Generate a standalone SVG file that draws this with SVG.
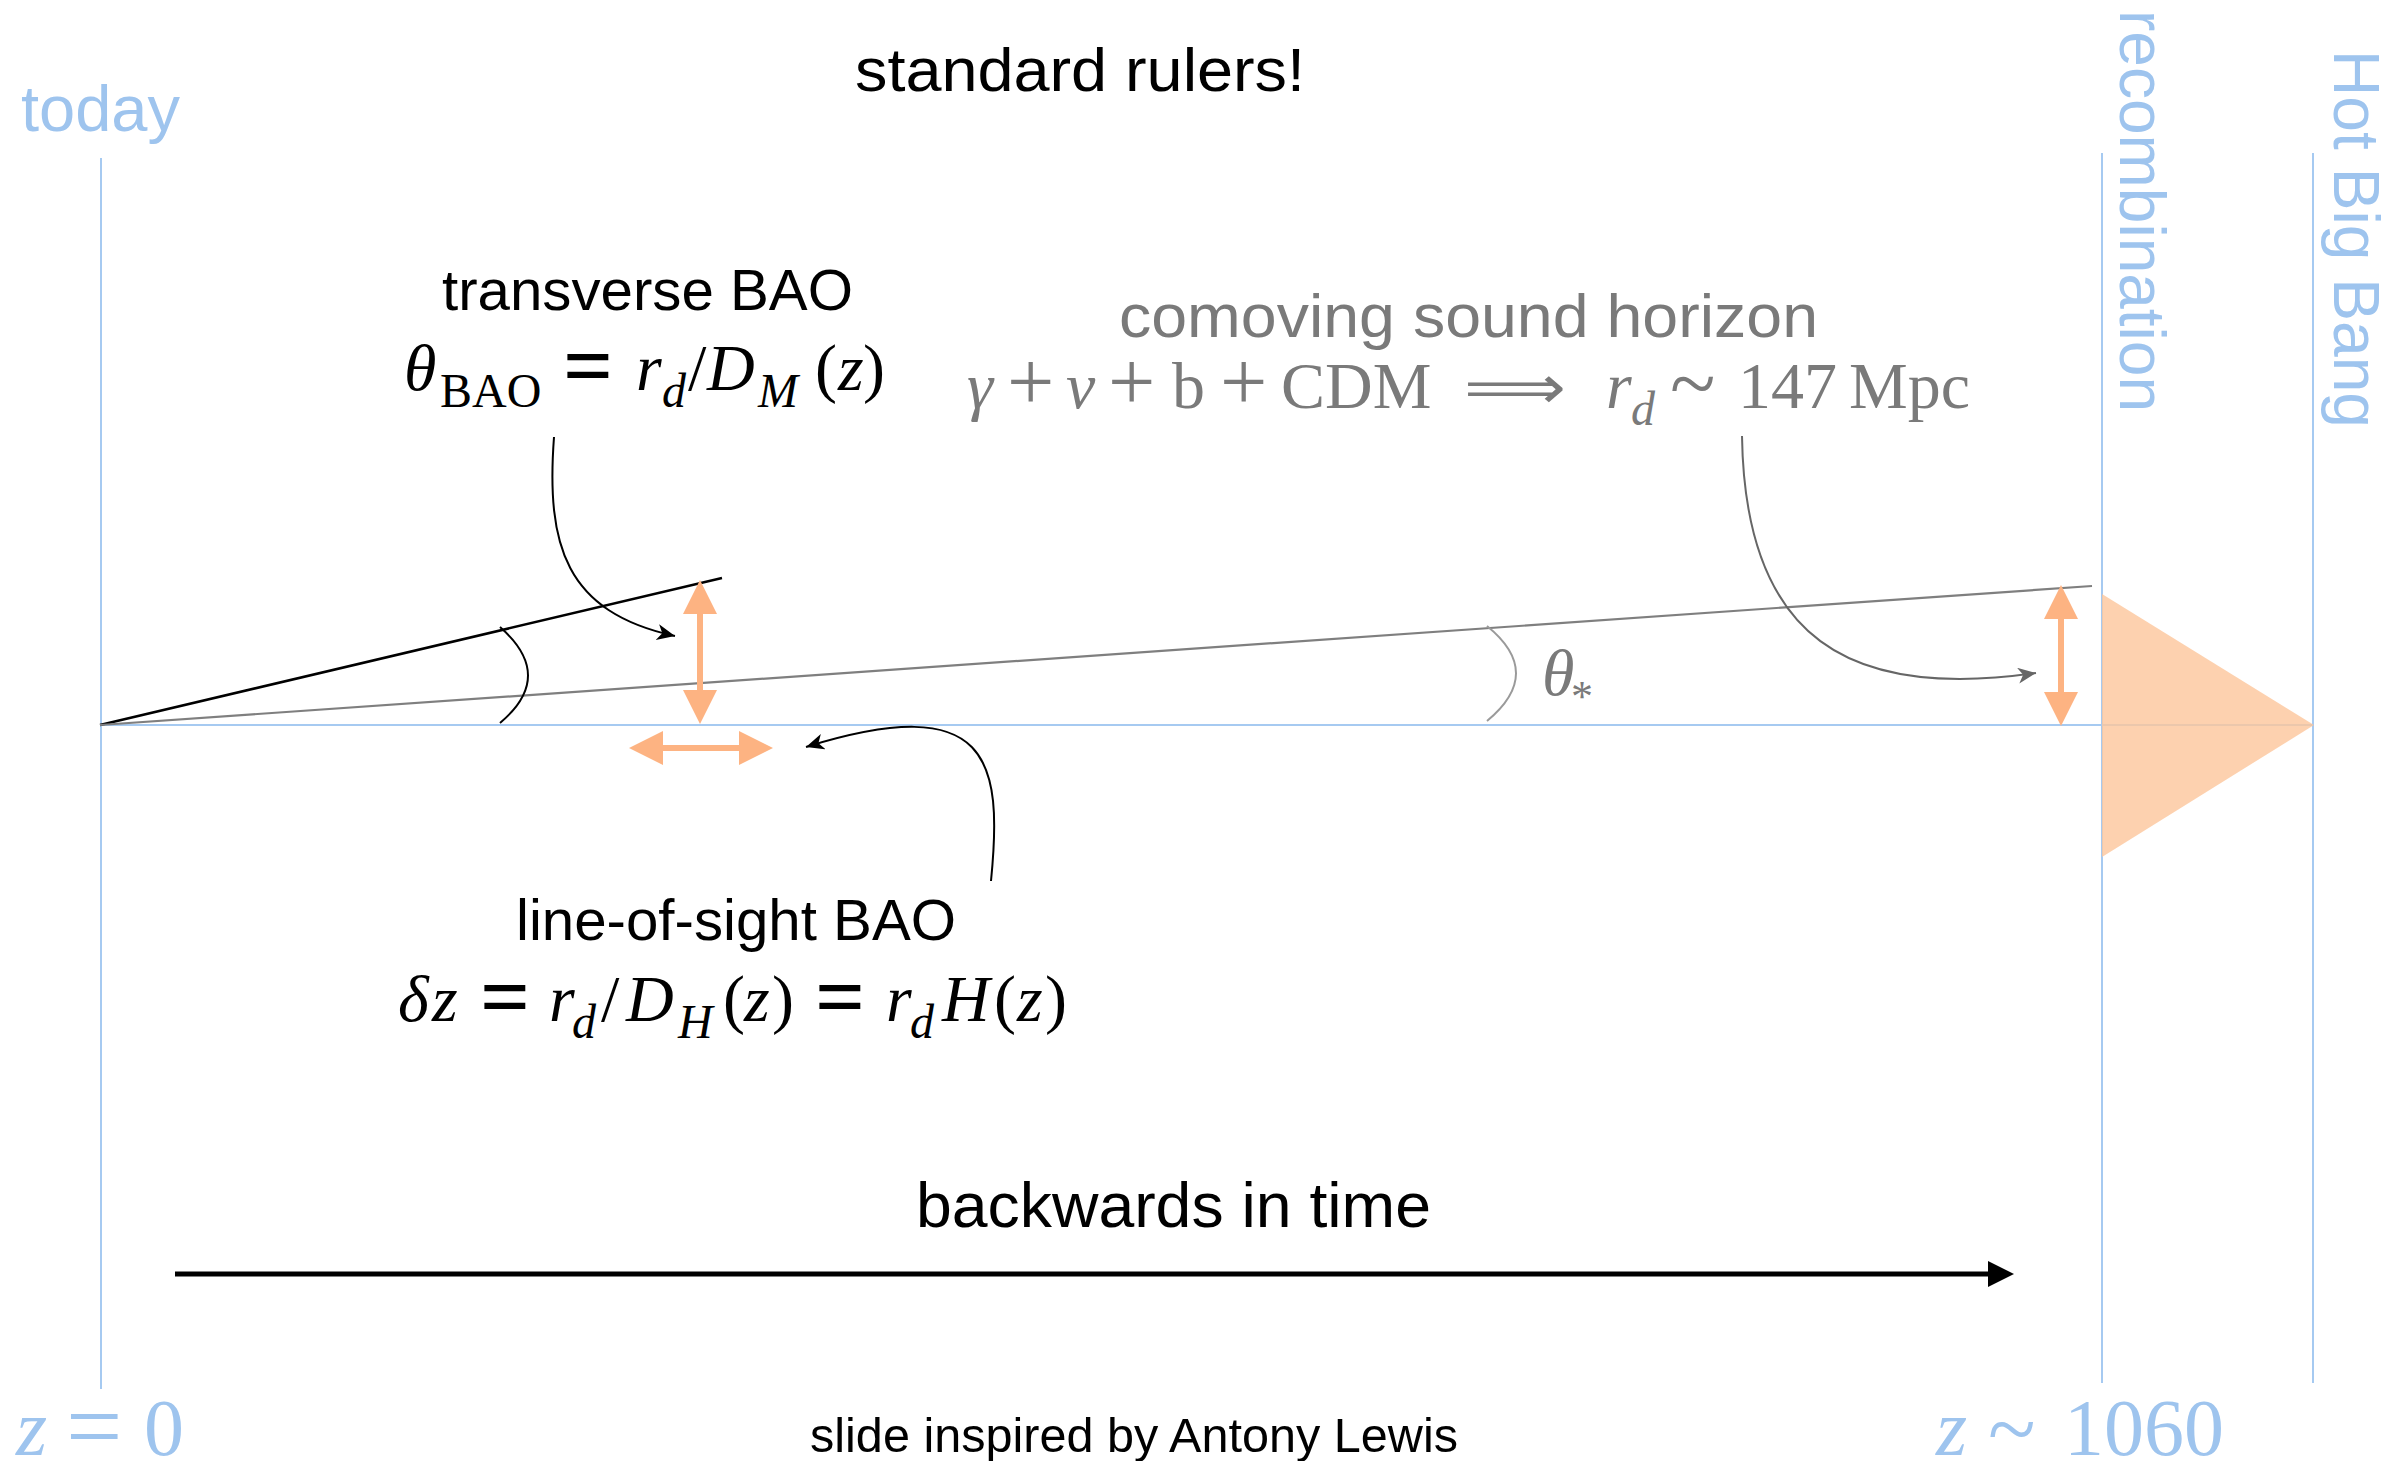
<svg xmlns="http://www.w3.org/2000/svg" width="2407" height="1461" viewBox="0 0 2407 1461">
<style>
.sans{font-family:"Liberation Sans",Arial,Helvetica,sans-serif;}
.serif{font-family:"Liberation Serif","Times New Roman",serif;}
.it{font-style:italic;}
.blue{fill:#9EC4EE;}
.gray{fill:#7a7a7a;}
.blk{fill:#000;}
.bline{stroke:#A6CAF1;stroke-width:2;fill:none;}
.orange{fill:#FDB382;}
.ostroke{stroke:#FDB382;stroke-width:6;fill:none;}
.eq{font-size:88px;font-weight:bold;}
.plus{font-size:84px;}
</style>
<defs>
<marker id="ahb" markerUnits="userSpaceOnUse" markerWidth="22" markerHeight="18" refX="18" refY="8" orient="auto">
<path d="M0,0 L18,8 L0,16 L5,8 Z" fill="#000"/>
</marker>
<marker id="ahg" markerUnits="userSpaceOnUse" markerWidth="22" markerHeight="18" refX="18" refY="8" orient="auto">
<path d="M0,0 L18,8 L0,16 L5,8 Z" fill="#666"/>
</marker>
</defs>
<rect width="2407" height="1461" fill="#fff"/>

<g id="axes">
<line class="bline" x1="101" y1="158" x2="101" y2="1389"/>
<line class="bline" x1="2102" y1="153" x2="2102" y2="1383"/>
<line class="bline" x1="2313" y1="153" x2="2313" y2="1383"/>
<line class="bline" x1="100" y1="725" x2="2313" y2="725"/>
</g>

<g id="last-scattering">
<polygon points="2102,594 2314,725 2102,857" fill="#FDC69B" opacity="0.8"/>
</g>

<g id="rays">
<line x1="100" y1="725" x2="722" y2="578" stroke="#000" stroke-width="2.5"/>
<line x1="100" y1="725" x2="2092" y2="586" stroke="#7f7f7f" stroke-width="2.2"/>
<path d="M500 627 Q556 676 500 723" fill="none" stroke="#000" stroke-width="2"/>
<path d="M1487 626 Q1545 673 1487 721" fill="none" stroke="#9a9a9a" stroke-width="2"/>
</g>

<g id="bao-arrows">
<g id="transverse-arrow">
<line class="ostroke" x1="700" y1="610" x2="700" y2="694"/>
<polygon class="orange" points="700,580 717,614 683,614"/>
<polygon class="orange" points="700,724 717,690 683,690"/>
</g>
<g id="los-arrow">
<line class="ostroke" x1="659" y1="748" x2="743" y2="748"/>
<polygon class="orange" points="629,748 663,731 663,765"/>
<polygon class="orange" points="773,748 739,731 739,765"/>
</g>
<g id="sound-arrow">
<line class="ostroke" x1="2061" y1="615" x2="2061" y2="696"/>
<polygon class="orange" points="2061,585 2078,619 2044,619"/>
<polygon class="orange" points="2061,726 2078,692 2044,692"/>
</g>
</g>

<g id="connectors">
<path d="M554 437 C546 545 565 612 675 636" fill="none" stroke="#000" stroke-width="2" marker-end="url(#ahb)"/>
<path d="M991 881 C1003 760 990 690 806 747" fill="none" stroke="#000" stroke-width="2" marker-end="url(#ahb)"/>
<path d="M1742 436 C1745 640 1850 700 2036 673" fill="none" stroke="#666" stroke-width="2" marker-end="url(#ahg)"/>
</g>

<g id="time-arrow">
<line x1="175" y1="1274" x2="1992" y2="1274" stroke="#000" stroke-width="5"/>
<polygon points="1988,1261 2014,1274 1988,1287" fill="#000"/>
</g>

<g id="title">
<text class="sans blk" x="855" y="91" font-size="62" textLength="450" lengthAdjust="spacingAndGlyphs">standard rulers!</text>
</g>

<g id="today">
<text class="sans blue" x="21" y="131" font-size="64" textLength="159" lengthAdjust="spacingAndGlyphs">today</text>
</g>

<g id="recombination">
<text class="sans blue" transform="translate(2120,10) rotate(90)" font-size="64" textLength="402" lengthAdjust="spacingAndGlyphs">recombination</text>
</g>

<g id="hot-big-bang">
<text class="sans blue" transform="translate(2334,50) rotate(90)" font-size="64" textLength="378" lengthAdjust="spacingAndGlyphs">Hot Big Bang</text>
</g>

<g id="transverse-bao">
<text class="sans blk" x="442" y="310" font-size="57" textLength="411" lengthAdjust="spacingAndGlyphs">transverse BAO</text>
<text class="serif blk" font-size="66" y="390"><tspan class="it" x="404">θ</tspan><tspan x="440" y="407" font-size="48">BAO</tspan><tspan class="eq" x="563" y="396">=</tspan><tspan class="it" x="636" y="390">r</tspan><tspan class="it" x="662" y="407" font-size="48">d</tspan><tspan x="688" y="390">/</tspan><tspan class="it" x="707" y="390">D</tspan><tspan class="it" x="758" y="407" font-size="48">M</tspan><tspan x="815" y="390">(</tspan><tspan class="it" x="838" y="390">z</tspan><tspan x="863" y="390">)</tspan></text>
</g>

<g id="sound-horizon">
<text class="sans gray" x="1119" y="337" font-size="62" textLength="699" lengthAdjust="spacingAndGlyphs">comoving sound horizon</text>
<text class="serif gray" font-size="66" y="408"><tspan class="it" x="967">γ</tspan><tspan class="plus" x="1007" y="410">+</tspan><tspan class="it" x="1066" y="408">ν</tspan><tspan class="plus" x="1108" y="410">+</tspan><tspan x="1172" y="408">b</tspan><tspan class="plus" x="1220" y="410">+</tspan><tspan x="1281" y="408">CDM</tspan><tspan class="it" x="1606">r</tspan><tspan class="it" x="1631" y="425" font-size="48">d</tspan><tspan x="1670" y="412" font-size="84">~</tspan><tspan x="1738" y="408">147</tspan><tspan x="1849" y="408">Mpc</tspan></text>
<text class="gray" x="1464" y="408" font-family="DejaVu Sans, sans-serif" font-size="60" textLength="102" lengthAdjust="spacingAndGlyphs">⟹</text>
</g>

<g id="theta-star">
<text class="serif gray" font-size="66" y="695"><tspan class="it" x="1542">θ</tspan><tspan x="1571" y="711" font-size="44">*</tspan></text>
</g>

<g id="line-of-sight-bao">
<text class="sans blk" x="516" y="940" font-size="57" textLength="440" lengthAdjust="spacingAndGlyphs">line-of-sight BAO</text>
<text class="serif blk" font-size="66" y="1021"><tspan class="it" x="398">δ</tspan><tspan class="it" x="432">z</tspan><tspan class="eq" x="480" y="1027">=</tspan><tspan class="it" x="549" y="1021">r</tspan><tspan class="it" x="572" y="1038" font-size="48">d</tspan><tspan x="601" y="1021">/</tspan><tspan class="it" x="626" y="1021">D</tspan><tspan class="it" x="678" y="1038" font-size="48">H</tspan><tspan x="723" y="1021">(</tspan><tspan class="it" x="744" y="1021">z</tspan><tspan x="772" y="1021">)</tspan><tspan class="eq" x="815" y="1027">=</tspan><tspan class="it" x="886" y="1021">r</tspan><tspan class="it" x="910" y="1038" font-size="48">d</tspan><tspan class="it" x="942" y="1021">H</tspan><tspan x="994" y="1021">(</tspan><tspan class="it" x="1017" y="1021">z</tspan><tspan x="1045" y="1021">)</tspan></text>
</g>

<g id="backwards">
<text class="sans blk" x="916" y="1227" font-size="63" textLength="515" lengthAdjust="spacingAndGlyphs">backwards in time</text>
</g>

<g id="z0">
<text class="serif blue" font-size="80" y="1455"><tspan class="it" x="16">z</tspan><tspan x="66" y="1460" font-size="100">=</tspan><tspan x="144" y="1455">0</tspan></text>
</g>

<g id="z1060">
<text class="serif blue" font-size="80" y="1455"><tspan class="it" x="1936">z</tspan><tspan x="1988" y="1459" font-size="88">~</tspan><tspan x="2064" y="1455">1060</tspan></text>
</g>

<g id="credit">
<text class="sans blk" x="810" y="1452" font-size="48" textLength="648" lengthAdjust="spacingAndGlyphs">slide inspired by Antony Lewis</text>
</g>
</svg>
